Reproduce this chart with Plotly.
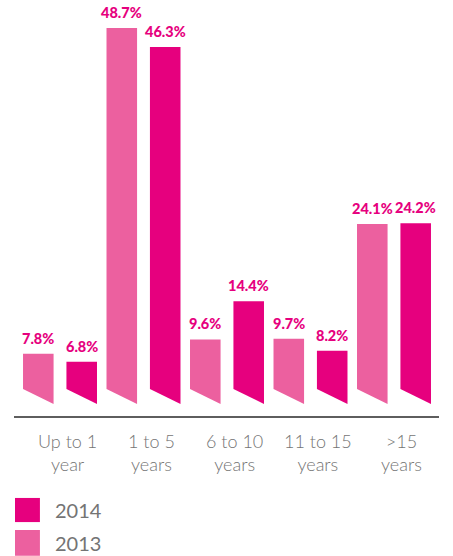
import plotly.graph_objects as go

categories = ["Up to 1<br>year", "1 to 5<br>years", "6 to 10<br>years", "11 to 15<br>years", ">15<br>years"]
series_names = ["2014", "2013"]
values_2013 = [7.8, 48.7, 9.6, 9.7, 24.1]
values_2014 = [6.8, 46.3, 14.4, 8.2, 24.2]

COLOR_2014 = "#E6007E"
COLOR_2013 = "#EC609F"
TEXT_GRAY = "#747474"

half_w = 0.183
offsets = {"2013": -0.26, "2014": 0.26}
cut_right = 1.5   # folded corner bottom (right side)
cut_left = 3.4    # folded corner bottom (left side)

fig = go.Figure()

def add_bars(vals, name, color):
    for i, v in enumerate(vals):
        xc = i + offsets[name]
        xl, xr = xc - half_w, xc + half_w
        fig.add_trace(go.Scatter(
            x=[xl, xr, xr, xl, xl],
            y=[v, v, cut_right, cut_left, v],
            mode="lines", fill="toself", fillcolor=color,
            line=dict(width=0, color=color),
            hoverinfo="skip", showlegend=False,
        ))
        fig.add_annotation(
            x=xc, y=v, xref="x", yref="y", text=f"{v:.1f}%",
            showarrow=False, yanchor="bottom", yshift=5,
            font=dict(family="Lato, Open Sans, sans-serif", size=14.5, color=COLOR_2014, weight=900),
        )

add_bars(values_2013, "2013", COLOR_2013)
add_bars(values_2014, "2014", COLOR_2014)

# category labels
for i, c in enumerate(categories):
    fig.add_annotation(
        x=i + 0.09, y=0, xref="x", yref="y", text=c, showarrow=False,
        yanchor="top", yshift=-12, align="center",
        font=dict(family="Lato, Open Sans, sans-serif", size=18, color=TEXT_GRAY, weight=300),
    )

# custom legend
legend_colors = {"2014": COLOR_2014, "2013": COLOR_2013}
legend_y = {"2014": (-0.197, -0.255), "2013": (-0.274, -0.336)}
for name in series_names:
    y0, y1 = legend_y[name]
    fig.add_shape(type="rect", xref="paper", yref="paper",
                  x0=0.0024, x1=0.061, y0=y1, y1=y0,
                  fillcolor=legend_colors[name], line=dict(width=0))
    fig.add_annotation(xref="paper", yref="paper", x=0.092, y=(y0 + y1) / 2,
                       text=name, showarrow=False, xanchor="left", yanchor="middle",
                       font=dict(family="Lato, Open Sans, sans-serif", size=20, color=TEXT_GRAY))

fig.update_layout(
    width=453, height=556,
    margin=dict(l=14, r=14, t=0, b=140),
    paper_bgcolor="white", plot_bgcolor="white",
    showlegend=False,
    xaxis=dict(range=[-0.551, 4.539], showgrid=False, zeroline=False,
               showticklabels=False, ticks="", showline=True,
               linecolor="#5E5E5E", linewidth=2, fixedrange=True),
    yaxis=dict(range=[0, 52.2], showgrid=False, zeroline=False,
               showticklabels=False, ticks="", showline=False, fixedrange=True),
)

fig.write_html("out.html")
